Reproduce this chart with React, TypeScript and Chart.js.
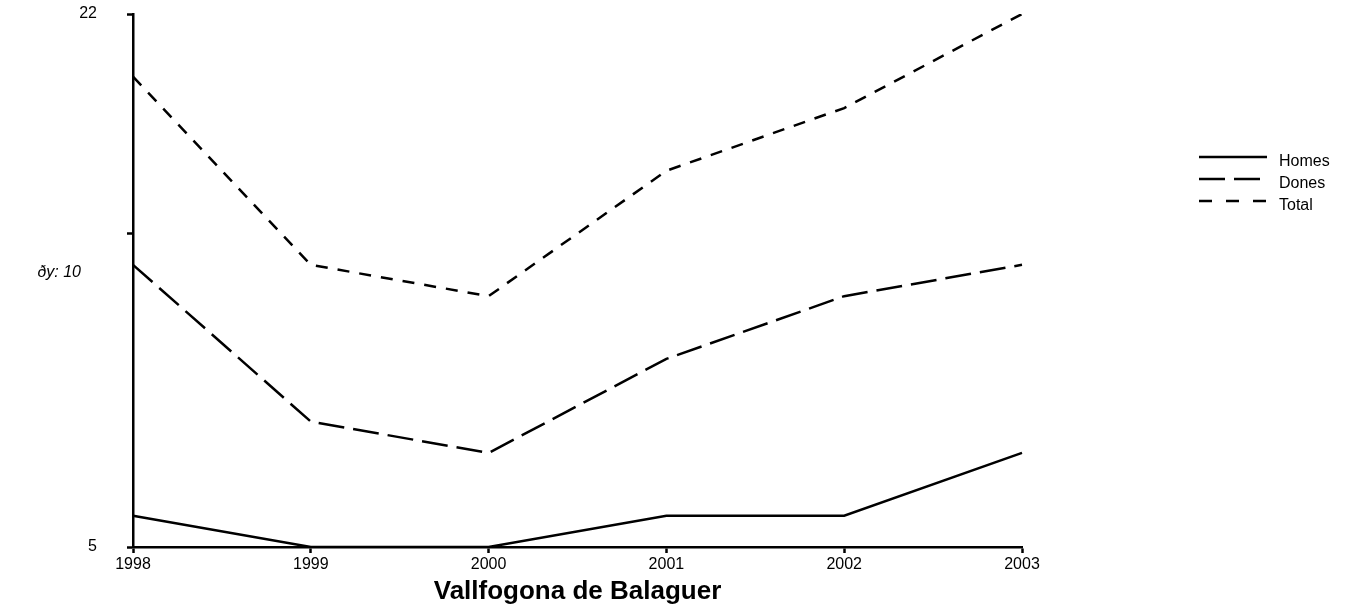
import React, { useEffect, useRef } from "react";
import { Chart, registerables } from "chart.js";

Chart.register(...registerables);

const years = ["1998", "1999", "2000", "2001", "2002", "2003"];
const homes = [6, 5, 5, 6, 6, 8];
const dones = [14, 9, 8, 11, 13, 14];
const total = [20, 14, 13, 17, 19, 22];
const yTicks = [5, 15, 22];
const yTickLabels = ["5", "", "22"];
const seriesNames = ["Homes", "Dones", "Total"];
const seriesDashes = [[], [26, 9], [12, 10]];
const chartTitle = "Vallfogona de Balaguer";
const yAxisLabel = "ðy: 10";

const FONT = "'Liberation Sans', Arial, sans-serif";

const extrasPlugin = {
  id: "extras",
  afterDraw(chart: any) {
    const ctx = chart.ctx;
    ctx.save();
    ctx.font = `italic 16px ${FONT}`;
    ctx.fillStyle = "#000";
    ctx.textAlign = "right";
    ctx.textBaseline = "middle";
    ctx.fillText(yAxisLabel, 81, 273);
    const lx0 = 1199;
    const ly0 = 157;
    const step = 22;
    const legendDashes = [[], [26, 9], [13, 14]];
    const legendEnds = [1267, 1261, 1266];
    seriesNames.forEach((name, i) => {
      const y = ly0 + i * step;
      ctx.beginPath();
      ctx.setLineDash(legendDashes[i]);
      ctx.lineWidth = 2.5;
      ctx.strokeStyle = "#000";
      ctx.moveTo(lx0, y);
      ctx.lineTo(legendEnds[i], y);
      ctx.stroke();
      ctx.setLineDash([]);
      ctx.font = `16px ${FONT}`;
      ctx.textAlign = "left";
      ctx.textBaseline = "middle";
      ctx.fillText(name, 1279, y + 5);
    });
    ctx.restore();
  },
};

export default function App() {
  const ref = useRef<HTMLCanvasElement>(null);
  useEffect(() => {
    if (!ref.current) return;
    const data = [homes, dones, total];
    const chart = new Chart(ref.current, {
      type: "line",
      data: {
        labels: years,
        datasets: data.map((d, i) => ({
          label: seriesNames[i],
          data: d,
          borderColor: "#000",
          backgroundColor: "#000",
          borderWidth: 2.5,
          borderDash: seriesDashes[i],
          pointRadius: 0,
          tension: 0,
          fill: false,
        })),
      },
      options: {
        animation: false,
        responsive: false,
        maintainAspectRatio: false,
        layout: { padding: { top: 14, right: 325, bottom: 0, left: 0 } },
        plugins: {
          legend: { display: false },
          tooltip: { enabled: false },
        },
        scales: {
          x: {
            type: "category",
            offset: false,
            grid: {
              display: true,
              drawOnChartArea: false,
              drawTicks: true,
              tickLength: 6,
              tickWidth: 2.5,
              color: "#000",
            },
            border: { display: true, color: "#000", width: 2.5 },
            ticks: {
              color: "#000",
              font: { family: FONT, size: 16 },
              padding: 2,
              maxRotation: 0,
              autoSkip: false,
            },
            title: {
              display: true,
              text: chartTitle,
              color: "#000",
              font: { family: FONT, size: 26, weight: "bold" },
              padding: { top: 0, bottom: 6 },
            },
            afterFit(scale: any) {
              scale.height = 66;
            },
          },
          y: {
            min: 5,
            max: 22,
            afterBuildTicks(scale: any) {
              scale.ticks = yTicks.map((v) => ({ value: v }));
            },
            grid: {
              display: true,
              drawOnChartArea: false,
              drawTicks: true,
              tickLength: 6,
              tickWidth: 2.5,
              color: "#000",
            },
            border: { display: true, color: "#000", width: 2.5 },
            ticks: {
              color: "#000",
              font: { family: FONT, size: 16 },
              padding: 30,
              callback: (v: any) => {
                const idx = yTicks.indexOf(Number(v));
                return idx >= 0 ? yTickLabels[idx] : "";
              },
            },
            afterFit(scale: any) {
              scale.width = 133;
              scale.paddingTop = 0;
              scale.paddingBottom = 0;
            },
          },
        },
      },
      plugins: [extrasPlugin],
    } as any);
    return () => chart.destroy();
  }, []);
  return (
    <div style={{ position: "fixed", left: 0, top: 0, width: 1347, height: 613, background: "#fff" }}>
      <canvas ref={ref} width={1347} height={613} style={{ display: "block" }} />
    </div>
  );
}
